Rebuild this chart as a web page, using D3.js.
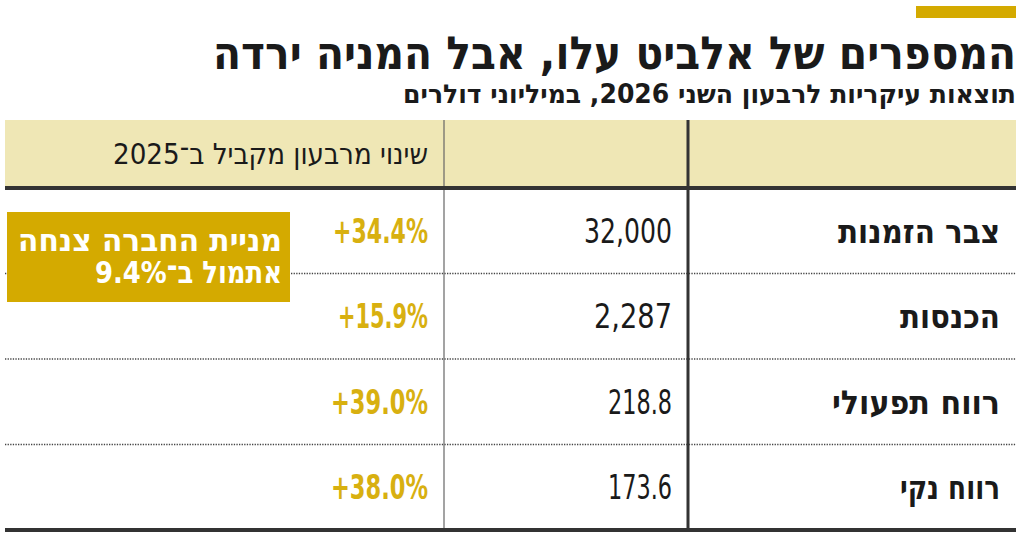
<!DOCTYPE html>
<html>
<head>
<meta charset="utf-8">
<script src="https://cdn.jsdelivr.net/npm/d3@7"></script>
<style>
	body { margin:0; background:#fff; }
	text { font-family: "Liberation Sans Narrow", "DejaVu Sans Condensed", "Liberation Sans", sans-serif; }
</style>
</head>
<body>
<div id="chart"></div>
<script>
////////////////////////////////////////////////////
var title = "המספרים של אלביט עלו, אבל המניה ירדה";
var subtitle = "תוצאות עיקריות לרבעון השני 2026, במיליוני דולרים";
var changeHeader = "שינוי מרבעון מקביל ב־2025";
var rowLabels = ["צבר הזמנות", "הכנסות", "רווח תפעולי", "רווח נקי"];
var values = [32000, 2287, 218.8, 173.6];
var valueText = ["32,000", "2,287", "218.8", "173.6"];
var changes = [34.4, 15.9, 39.0, 38.0];
var calloutLines = ["מניית החברה צנחה", "אתמול ב־9.4%"];

////////////////////////////////////////////////////
var W = 1024, H = 540;
var left = 5, right = 1016;
var headTop = 120, headBottom = 188, tableBottom = 530;
var colChange = 444, colValue = 688;
var gold = "#d4aa00";

var svg = d3.select("#chart").append("svg")
	.attr("width", W)
	.attr("height", H);

// fit a text to a width
function fit(sel, w) {
	sel.attr("textLength", w).attr("lengthAdjust", "spacingAndGlyphs");
}

/////////// TITLE
svg.append("rect")
	.attr("x", 916).attr("y", 6)
	.attr("width", 100).attr("height", 12)
	.attr("fill", gold);

svg.append("text")
	.attr("transform", "translate(" + right + ",69) scale(1,1.15)")
	.attr("direction", "rtl").attr("text-anchor", "start")
	.attr("font-size", 40).attr("font-weight", "bold")
	.attr("fill", "#1a1a1a")
	.text(title)
	.call(fit, 803);

svg.append("text")
	.attr("transform", "translate(" + right + ",103) scale(1,1.12)")
	.attr("direction", "rtl").attr("text-anchor", "start")
	.attr("font-size", 23).attr("font-weight", "bold")
	.attr("fill", "#1a1a1a")
	.text(subtitle)
	.call(fit, 613);

/////////// HEADER
svg.append("rect")
	.attr("x", left).attr("y", headTop)
	.attr("width", right - left).attr("height", headBottom - headTop)
	.attr("fill", "#efe7b5");

svg.append("text")
	.attr("x", 428).attr("y", 164)
	.attr("direction", "rtl").attr("text-anchor", "start")
	.attr("font-size", 29)
	.attr("fill", "#1a1a1a")
	.text(changeHeader)
	.call(fit, 315);

/////////// ROWS
var y = d3.scaleBand()
	.domain(rowLabels)
	.range([headBottom, tableBottom]);

svg.selectAll("line.sep")
	.data(rowLabels.slice(1))
	.enter().append("line")
		.attr("class", "sep")
		.attr("x1", left).attr("x2", right)
		.attr("y1", function(d){ return y(d); })
		.attr("y2", function(d){ return y(d); })
		.attr("stroke", "#444")
		.attr("stroke-width", 1.5)
		.attr("stroke-dasharray", "1.3,1.3");

var labelW = [162, 100, 168, 100];
svg.selectAll("text.label")
	.data(rowLabels)
	.enter().append("text")
		.attr("class", "label")
		.attr("x", 1000)
		.attr("y", function(d){ return y(d) + y.bandwidth()/2 + 12; })
		.attr("direction", "rtl").attr("text-anchor", "start")
		.attr("font-size", 33).attr("font-weight", "bold")
		.attr("fill", "#1a1a1a")
		.text(function(d){ return d; })
		.each(function(d,i){ d3.select(this).call(fit, labelW[i]); });

var valueW = [88, 78, 64, 64];
svg.selectAll("text.value")
	.data(values)
	.enter().append("text")
		.attr("class", "value")
		.attr("x", 672)
		.attr("y", function(d,i){ return y(rowLabels[i]) + y.bandwidth()/2 + 12; })
		.attr("text-anchor", "end")
		.attr("font-size", 33)
		.attr("fill", "#1a1a1a")
		.text(function(d,i){ return valueText[i]; })
		.each(function(d,i){ d3.select(this).call(fit, valueW[i]); });

var fmt = d3.format("+.1f");
var changeW = [95, 90, 97, 97];
svg.selectAll("text.change")
	.data(changes)
	.enter().append("text")
		.attr("class", "change")
		.attr("x", 428)
		.attr("y", function(d,i){ return y(rowLabels[i]) + y.bandwidth()/2 + 12; })
		.attr("text-anchor", "end")
		.attr("font-size", 33).attr("font-weight", "bold")
		.attr("fill", "#d8b010")
		.text(function(d){ return fmt(d) + "%"; })
		.each(function(d,i){ d3.select(this).call(fit, changeW[i]); });

/////////// LINES
svg.append("line")
	.attr("x1", colChange).attr("x2", colChange)
	.attr("y1", headTop).attr("y2", tableBottom)
	.attr("stroke", "#666").attr("stroke-width", 1.2);
svg.append("line")
	.attr("x1", colValue).attr("x2", colValue)
	.attr("y1", headTop).attr("y2", tableBottom)
	.attr("stroke", "#333").attr("stroke-width", 3);
svg.append("line")
	.attr("x1", left).attr("x2", right)
	.attr("y1", headBottom).attr("y2", headBottom)
	.attr("stroke", "#333").attr("stroke-width", 4);
svg.append("line")
	.attr("x1", left).attr("x2", right)
	.attr("y1", tableBottom).attr("y2", tableBottom)
	.attr("stroke", "#333").attr("stroke-width", 4);

/////////// CALLOUT
svg.append("rect")
	.attr("x", 7).attr("y", 212)
	.attr("width", 283).attr("height", 90)
	.attr("fill", gold);

var calloutW = [264, 187];
svg.selectAll("text.callout")
	.data(calloutLines)
	.enter().append("text")
		.attr("class", "callout")
		.attr("x", 282)
		.attr("y", function(d,i){ return 251 + i*32; })
		.attr("direction", "rtl").attr("text-anchor", "start")
		.attr("font-size", 31).attr("font-weight", "bold")
		.attr("fill", "#fff")
		.text(function(d){ return d; })
		.each(function(d,i){ d3.select(this).call(fit, calloutW[i]); });
////////////////////////////////////////////////////
</script>
</body>
</html>
